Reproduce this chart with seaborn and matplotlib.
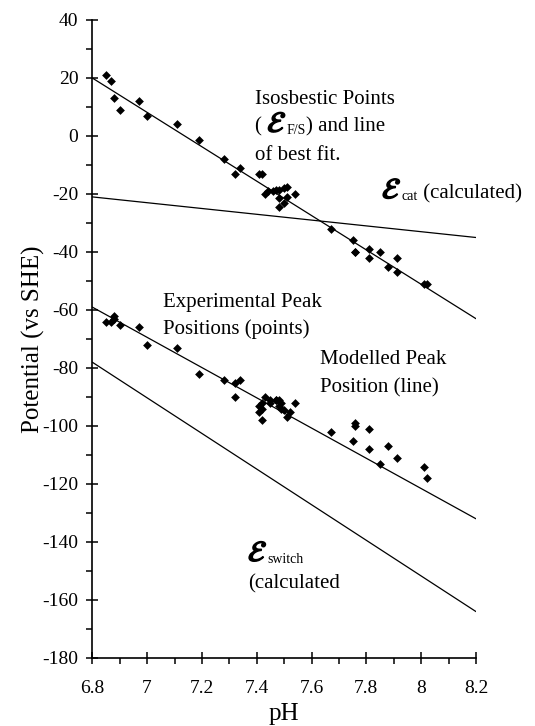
import matplotlib
matplotlib.use("Agg")
import matplotlib.pyplot as plt
import matplotlib.patheffects as pe
from matplotlib.transforms import offset_copy
import seaborn as sns
import pandas as pd
from matplotlib.ticker import MultipleLocator, FuncFormatter

# Isosbestic points (E_F/S) vs pH
iso_ph = [6.85, 6.87, 6.88, 6.90, 6.97, 7.00, 7.11, 7.19, 7.28, 7.32, 7.34,
          7.41, 7.42, 7.43, 7.44, 7.46, 7.47, 7.48, 7.50, 7.51, 7.54, 7.48,
          7.50, 7.48, 7.51, 7.67, 7.75, 7.76, 7.76, 7.81, 7.85, 7.81, 7.91,
          7.88, 7.91, 8.01, 8.02]
iso_E = [21, 19, 13, 9, 12, 7, 4, -1.5, -8, -13, -11,
         -13, -13, -20, -19, -19, -18.5, -18.5, -18, -17.5, -20, -21.5,
         -23, -24.5, -21, -32, -36, -40, -40, -39, -40, -42, -42,
         -45, -47, -51, -51]

# Experimental peak positions vs pH
peak_ph = [6.85, 6.87, 6.88, 6.88, 6.90, 6.97, 7.00, 7.11, 7.19, 7.28, 7.32,
           7.34, 7.32, 7.43, 7.45, 7.47, 7.41, 7.42, 7.41, 7.42, 7.45, 7.47,
           7.48, 7.48, 7.49, 7.49, 7.50, 7.52, 7.51, 7.54, 7.42, 7.67, 7.76,
           7.76, 7.81, 7.75, 7.81, 7.88, 7.85, 7.91, 8.01, 8.02]
peak_E = [-64, -64, -62, -63, -65, -66, -72, -73, -82, -84, -85,
          -84, -90, -90, -91, -91, -93, -94, -95, -92, -92, -91,
          -91, -93, -92, -94, -94.5, -95, -97, -92, -98, -102, -99,
          -100, -101, -105, -108, -107, -113, -111, -114, -118]

# Straight lines: best fit, calculated E_cat, modelled peak, calculated E_switch
line_ph = [6.8, 8.2]
fit_E = [20, -63]
cat_E = [-21, -35]
model_E = [-59, -132]
switch_E = [-78, -164]

x_ticks = [6.8, 7.0, 7.2, 7.4, 7.6, 7.8, 8.0, 8.2]
y_ticks = [40, 20, 0, -20, -40, -60, -80, -100, -120, -140, -160, -180]

sns.set_theme(style="white")
plt.rcParams["font.family"] = ["Liberation Serif", "DejaVu Serif"]
plt.rcParams["mathtext.fontset"] = "stix"
plt.rcParams["axes.unicode_minus"] = False

W, H = 535, 726
DPI = 100
fig = plt.figure(figsize=(W / DPI, H / DPI), dpi=DPI)
x0, x1, y0, y1 = 92.3, 476.0, 20.0, 658.0
ax = fig.add_axes([x0 / W, 1 - y1 / H, (x1 - x0) / W, (y1 - y0) / H])

iso = pd.DataFrame({"pH": iso_ph, "E": iso_E})
peak = pd.DataFrame({"pH": peak_ph, "E": peak_E})

for ys in (fit_E, cat_E, model_E, switch_E):
    sns.lineplot(x=line_ph, y=ys, ax=ax, color="black", linewidth=0.9,
                 legend=False)

sns.scatterplot(data=iso, x="pH", y="E", ax=ax, marker="D", s=20,
                color="black", edgecolor="black", linewidth=0, legend=False)
sns.scatterplot(data=peak, x="pH", y="E", ax=ax, marker="D", s=20,
                color="black", edgecolor="black", linewidth=0, legend=False)

ax.set_xlim(6.8, 8.2)
ax.set_ylim(-180, 40)
ax.set_xticks(x_ticks)
ax.set_yticks(y_ticks)
ax.xaxis.set_major_formatter(FuncFormatter(lambda v, p: f"{v:g}"))
ax.yaxis.set_major_formatter(FuncFormatter(lambda v, p: f"{v:g}"))
ax.xaxis.set_minor_locator(MultipleLocator(0.1))
ax.yaxis.set_minor_locator(MultipleLocator(10))

for side in ("top", "right"):
    ax.spines[side].set_visible(False)
for side in ("left", "bottom"):
    ax.spines[side].set_color("black")
    ax.spines[side].set_linewidth(1.2)

ax.tick_params(which="major", direction="inout", length=8, width=1.1,
               color="black", labelsize=14, labelcolor="black", pad=6)
ax.tick_params(which="minor", direction="out", length=4, width=1.1,
               color="black")
ax.tick_params(axis="y", which="both", left=True)
ax.tick_params(axis="x", which="both", bottom=True)
ax.tick_params(axis="x", which="major", pad=12)

ax.set_xlabel("pH", fontsize=18, color="black")
ax.xaxis.set_label_coords(0.5, -0.071)
ax.set_ylabel("Potential (vs SHE)", fontsize=18, color="black")
ax.yaxis.set_label_coords(-0.122, 0.5)

TXT = 15
renderer = fig.canvas.get_renderer()


def run(x, y, parts):
    """Write a row of text pieces one after another on a common baseline.
    Each piece is (string, fontsize, bold_stroke, dy_px)."""
    dx = 0.0
    for s, size, heavy, dy in parts:
        tr = offset_copy(ax.transData, fig=fig, x=dx * 72 / DPI,
                         y=dy * 72 / DPI, units="points")
        t = ax.text(x, y, s, fontsize=size, color="black", ha="left",
                    va="baseline", transform=tr)
        if heavy:
            t.set_path_effects([pe.withStroke(linewidth=1.1,
                                              foreground="black")])
        dx += t.get_window_extent(renderer).width


SCRIPT_E = r"$\mathcal{E}$"

run(7.394, 11.0, [("Isosbestic Points", TXT, False, 0)])
run(7.394, 1.4, [("( ", TXT, False, 0), (SCRIPT_E, 21, True, 0),
                 ("F/S", 10, False, -2), (") and line", TXT, False, 0)])
run(7.394, -8.3, [("of best fit.", TXT, False, 0)])
run(7.857, -21.5, [(SCRIPT_E, 21, True, 0), ("cat", 10, False, -2),
                   (" (calculated)", TXT, False, 0)])
run(7.058, -59.0, [("Experimental Peak", TXT, False, 0)])
run(7.058, -68.3, [("Positions (points)", TXT, False, 0)])
run(7.631, -78.6, [("Modelled Peak", TXT, False, 0)])
run(7.631, -88.3, [("Position (line)", TXT, False, 0)])
run(7.368, -146.6, [(SCRIPT_E, 21, True, 0), ("switch", 10, False, -2)])
run(7.368, -156.2, [("(calculated", TXT, False, 0)])

fig.savefig("out.png", dpi=DPI)
